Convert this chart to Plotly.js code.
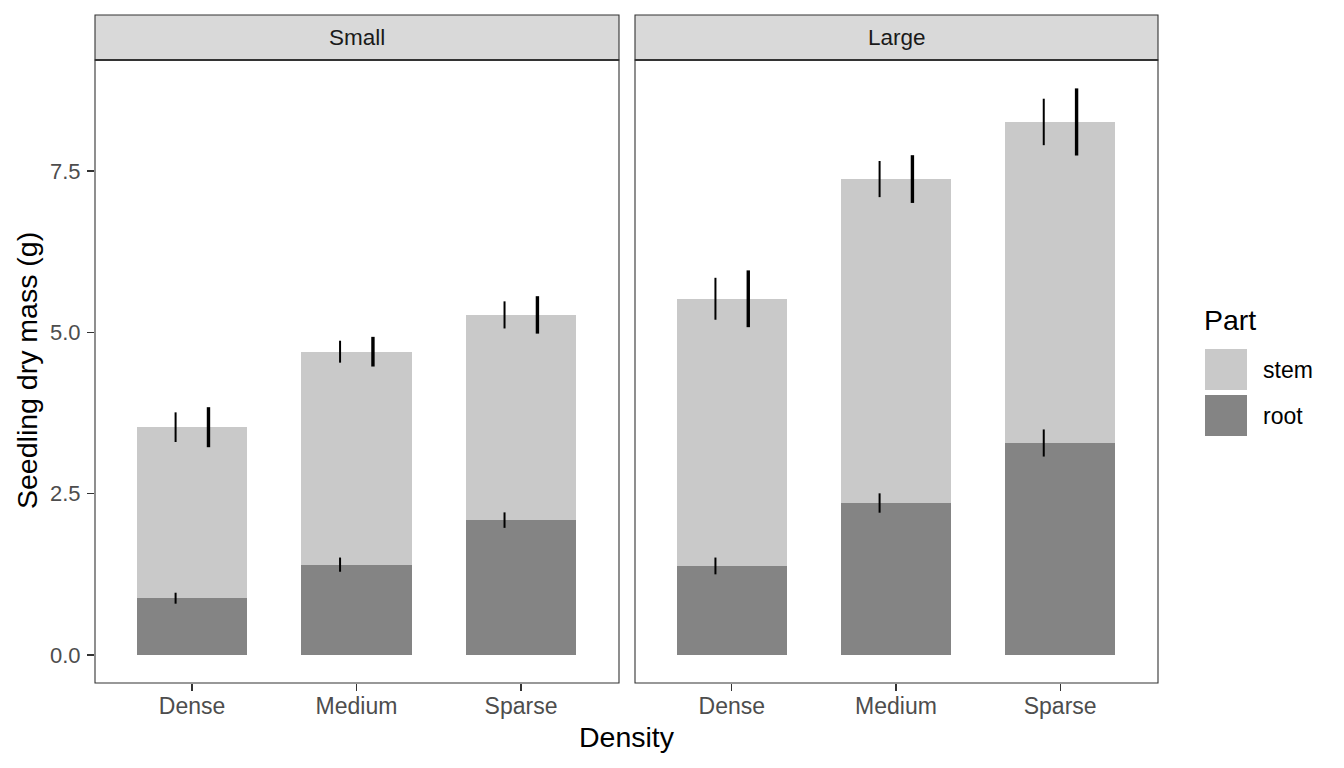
<!DOCTYPE html>
<html>
<head>
<meta charset="utf-8">
<script src="https://cdn.plot.ly/plotly-3.0.1.min.js"></script>
<style>html,body{margin:0;padding:0;background:#fff;}#chart{width:1344px;height:768px;}</style>
</head>
<body>
<div id="chart"></div>
<script>
// ---- data ----
const densities = ["Dense", "Medium", "Sparse"];
const facets = ["Small", "Large"];
const parts = ["stem", "root"];
// Small seedlings
const rootSmall = [0.88, 1.40, 2.09];
const stemSmall = [2.65, 3.30, 3.18];
const rootErrSmall = [0.085, 0.11, 0.12];
const stemErrSmall = [0.23, 0.17, 0.21];
const totalErrSmall = [0.31, 0.23, 0.29];
// Large seedlings
const rootLarge = [1.38, 2.355, 3.285];
const stemLarge = [4.14, 5.02, 4.975];
const rootErrLarge = [0.13, 0.15, 0.21];
const stemErrLarge = [0.325, 0.28, 0.36];
const totalErrLarge = [0.44, 0.37, 0.52];
const yTicks = [0, 2.5, 5, 7.5];

// ---- style ----
const stemColor = "#C9C9C9";
const rootColor = "#848484";
const font = "Liberation Sans, Arial, sans-serif";
const W = 1344, H = 768;
const px = v => v / W, py = v => 1 - v / H;
const panels = [[95, 619], [635, 1158]];
const plotTop = 60, plotBottom = 683, stripTop = 15;

const idx = densities.map((d, i) => i);
const traces = [];
const sets = [
  {root: rootSmall, stem: stemSmall, re: rootErrSmall, se: stemErrSmall, te: totalErrSmall, xa: "x", ya: "y"},
  {root: rootLarge, stem: stemLarge, re: rootErrLarge, se: stemErrLarge, te: totalErrLarge, xa: "x2", ya: "y2"}
];
sets.forEach(s => {
  const total = s.root.map((r, i) => r + s.stem[i]);
  traces.push({type: "bar", x: idx, y: s.root, width: 0.67, marker: {color: rootColor, line: {width: 0}},
    xaxis: s.xa, yaxis: s.ya, showlegend: false, hoverinfo: "skip"});
  traces.push({type: "bar", x: idx, y: s.stem, width: 0.67, marker: {color: stemColor, line: {width: 0}},
    xaxis: s.xa, yaxis: s.ya, showlegend: false, hoverinfo: "skip"});
  const off = (d) => idx.map(i => i + d);
  const eb = (x, y, arr, th) => ({type: "scatter", mode: "markers", x: x, y: y,
    marker: {size: 0.1, opacity: 0}, error_y: {type: "data", array: arr, visible: true, color: "#000", thickness: th, width: 0},
    xaxis: s.xa, yaxis: s.ya, showlegend: false, hoverinfo: "skip"});
  traces.push(eb(off(-0.1), s.root, s.re, 2));
  traces.push(eb(off(-0.1), total, s.se, 2));
  traces.push(eb(off(0.1), total, s.te, 3.4));
});

const yRange = [-0.434, 9.22];
const xRange = [-0.59, 2.596];
const xBase = {range: xRange, tickvals: idx, ticktext: densities, ticks: "outside", ticklen: 7, tickwidth: 1.1,
  tickcolor: "#333", showgrid: false, zeroline: false, showline: false, fixedrange: true, ticklabelstandoff: -5,
  tickfont: {family: font, size: 23, color: "#4D4D4D"}};
const yBase = {range: yRange, tickvals: yTicks, tickformat: ".1f", showgrid: false, zeroline: false, showline: false,
  domain: [py(plotBottom), py(plotTop)], fixedrange: true, tickcolor: "#333", ticklen: 7, tickwidth: 1.1,
  ticklabelstandoff: 2, tickfont: {family: font, size: 22, color: "#4D4D4D"}};

const shapes = [];
const annotations = [];
panels.forEach((p, i) => {
  shapes.push({type: "rect", xref: "paper", yref: "paper", x0: px(p[0]), x1: px(p[1]), y0: py(plotBottom), y1: py(plotTop),
    line: {color: "#333333", width: 1.1}, fillcolor: "rgba(0,0,0,0)"});
  shapes.push({type: "rect", xref: "paper", yref: "paper", x0: px(p[0]), x1: px(p[1]), y0: py(plotTop), y1: py(stripTop),
    line: {color: "#333333", width: 1.1}, fillcolor: "#D9D9D9"});
  shapes.push({type: "line", xref: "paper", yref: "paper", x0: px(p[0]), x1: px(p[1]), y0: py(plotTop), y1: py(plotTop),
    line: {color: "#333333", width: 2}});
  annotations.push({xref: "paper", yref: "paper", x: px((p[0] + p[1]) / 2), y: py(38), text: facets[i], showarrow: false,
    xanchor: "center", yanchor: "middle", font: {family: font, size: 22.5, color: "#1A1A1A"}});
});
// axis titles
annotations.push({xref: "paper", yref: "paper", x: px(626.5), y: py(737), text: "Density", showarrow: false,
  xanchor: "center", yanchor: "middle", font: {family: font, size: 28.5, color: "#000"}});
annotations.push({xref: "paper", yref: "paper", x: px(27), y: py(371), text: "Seedling dry mass (g)", showarrow: false,
  textangle: -90, xanchor: "center", yanchor: "middle", font: {family: font, size: 28.5, color: "#000"}});
// legend
annotations.push({xref: "paper", yref: "paper", x: px(1202), y: py(320), text: "Part", showarrow: false,
  xanchor: "left", yanchor: "middle", font: {family: font, size: 28.5, color: "#000"}});
const legendColors = [stemColor, rootColor];
const keyTops = [349, 395];
parts.forEach((name, i) => {
  shapes.push({type: "rect", xref: "paper", yref: "paper", x0: px(1205), x1: px(1247), y0: py(keyTops[i] + 41), y1: py(keyTops[i]),
    line: {width: 0}, fillcolor: legendColors[i]});
  annotations.push({xref: "paper", yref: "paper", x: px(1261), y: py(keyTops[i] + 21), text: name, showarrow: false,
    xanchor: "left", yanchor: "middle", font: {family: font, size: 23, color: "#000"}});
});

const layout = {
  width: W, height: H, margin: {l: 0, r: 0, t: 0, b: 0}, paper_bgcolor: "#fff", plot_bgcolor: "#fff",
  barmode: "stack", showlegend: false,
  xaxis: Object.assign({}, xBase, {domain: [px(panels[0][0]), px(panels[0][1])], anchor: "y"}),
  xaxis2: Object.assign({}, xBase, {domain: [px(panels[1][0]), px(panels[1][1])], anchor: "y2"}),
  yaxis: Object.assign({}, yBase, {anchor: "x", ticks: "outside"}),
  yaxis2: Object.assign({}, yBase, {anchor: "x2", ticks: "", showticklabels: false}),
  shapes: shapes, annotations: annotations
};
Plotly.newPlot("chart", traces, layout, {staticPlot: true, displayModeBar: false});
</script>
</body>
</html>
